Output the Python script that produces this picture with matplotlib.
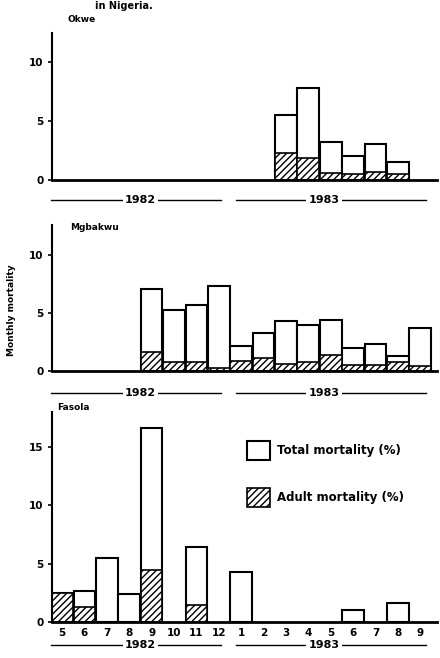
import numpy as np
import matplotlib.pyplot as plt
from matplotlib.transforms import blended_transform_factory

# months on the shared axis: May 1982 .. Sep 1983
month_labels = ['5', '6', '7', '8', '9', '10', '11', '12',
                '1', '2', '3', '4', '5', '6', '7', '8', '9']

# Okwe (Mar-Aug 1983)
okwe_months = [10, 11, 12, 13, 14, 15]
okwe_total = [5.5, 7.8, 3.2, 2.0, 3.1, 1.5]
okwe_adult = [2.3, 1.9, 0.6, 0.5, 0.7, 0.5]

# Mgbakwu (Sep 1982 - Sep 1983)
mgb_months = [4, 5, 6, 7, 8, 9, 10, 11, 12, 13, 14, 15, 16]
mgb_total = [7.1, 5.3, 5.7, 7.3, 2.2, 3.3, 4.3, 4.0, 4.4, 2.0, 2.3, 1.3, 3.7]
mgb_adult = [1.6, 0.8, 0.8, 0.3, 0.9, 1.1, 0.6, 0.8, 1.4, 0.5, 0.5, 0.8, 0.4]

# Fasola
fas_months = [0, 1, 2, 3, 4, 6, 8, 13, 15]
fas_total = [2.5, 2.7, 5.5, 2.4, 16.6, 6.4, 4.3, 1.0, 1.6]
fas_adult = [2.5, 1.3, 0.0, 0.0, 4.5, 1.5, 0.0, 0.0, 0.0]

plt.rcParams['font.family'] = 'DejaVu Sans'
plt.rcParams['font.weight'] = 'bold'
plt.rcParams['hatch.linewidth'] = 1.0

fig = plt.figure(figsize=(4.4, 6.58), dpi=100)
H = 658.0
W = 440.0

def make_ax(top_px, zero_px, ymax):
    left = 52 / W
    width = (437 - 52) / W
    ax = fig.add_axes([left, 1 - zero_px / H, width, (zero_px - top_px) / H])
    ax.set_xlim(-0.45, 16.75)
    ax.set_ylim(0, ymax)
    for s in ['top', 'right']:
        ax.spines[s].set_visible(False)
    ax.spines['bottom'].set_linewidth(2.0)
    ax.spines['left'].set_linewidth(1.5)
    ax.tick_params(axis='y', direction='out', length=3, width=1.2, labelsize=7.5, pad=3)
    ax.set_xticks([])
    return ax

def draw_bars(ax, months, total, adult):
    b1 = ax.bar(months, total, width=0.97, facecolor='white', edgecolor='black', linewidth=1.5,
                label='Total mortality (%)')
    b2 = ax.bar(months, adult, width=0.97, facecolor='white', edgecolor='black', linewidth=1.2,
                hatch='/////', label='Adult mortality (%)')
    return b1, b2

def year_lines(ax, y_px):
    trans = blended_transform_factory(ax.transData, fig.transFigure)
    yf = 1 - y_px / H
    ax.plot([-0.5, 7.1], [yf, yf], color='black', lw=1.0, transform=trans, clip_on=False)
    ax.plot([7.75, 16.25], [yf, yf], color='black', lw=1.0, transform=trans, clip_on=False)
    for x, t in [(3.5, '1982'), (11.7, '1983')]:
        ax.text(x, yf, t, transform=trans, ha='center', va='center', fontsize=8,
                fontweight='bold', bbox=dict(facecolor='white', edgecolor='none', pad=1.5))

# top panel
ax1 = make_ax(33, 180, 12.5)
draw_bars(ax1, okwe_months, okwe_total, okwe_adult)
ax1.set_yticks([0, 5, 10])
year_lines(ax1, 200)
fig.text(67 / W, 1 - 20 / H, 'Okwe', fontsize=6.5, fontweight='bold', va='center')

# middle panel
ax2 = make_ax(225, 371, 12.6)
draw_bars(ax2, mgb_months, mgb_total, mgb_adult)
ax2.set_yticks([0, 5, 10])
year_lines(ax2, 393)
fig.text(70 / W, 1 - 228 / H, 'Mgbakwu', fontsize=6.5, fontweight='bold', va='center')

# bottom panel
ax3 = make_ax(412, 622, 18.0)
b1, b2 = draw_bars(ax3, fas_months, fas_total, fas_adult)
ax3.set_yticks([0, 5, 10, 15])
ax3.set_xticks(range(len(month_labels)))
ax3.set_xticklabels(month_labels, fontsize=7.5, fontweight='bold')
ax3.tick_params(axis='x', length=0, pad=4)
year_lines(ax3, 645)
fig.text(57 / W, 1 - 408 / H, 'Fasola', fontsize=6.5, fontweight='bold', va='center')

ax3.legend(handles=[b1, b2], loc='upper left', bbox_to_anchor=(236 / W, 1 - 430 / H),
           bbox_transform=fig.transFigure, frameon=False, fontsize=8.5,
           handlelength=2.0, handleheight=2.2, labelspacing=2.3, handletextpad=0.6)

fig.text(12 / W, 1 - 310 / H, 'Monthly mortality', rotation=90, fontsize=6.5,
         fontweight='bold', ha='center', va='center')
fig.text(95 / W, 1 - 1 / H, 'in Nigeria.', fontsize=7, ha='left', va='top')

fig.savefig('out.png', dpi=100)
